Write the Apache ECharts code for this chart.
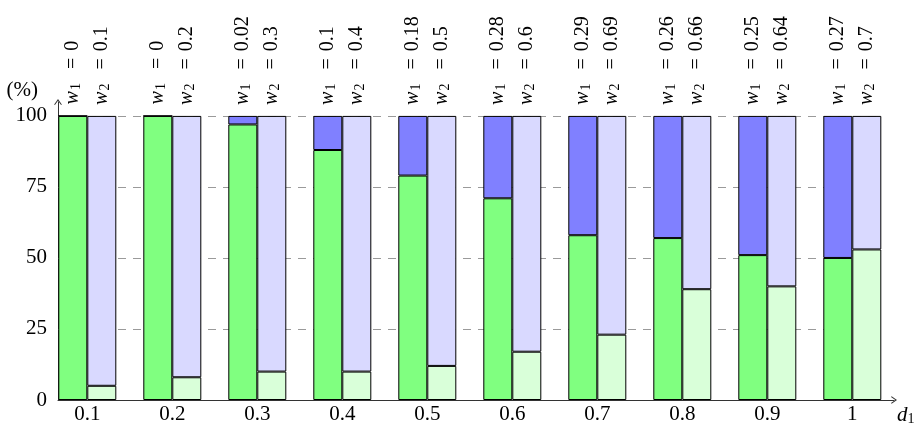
<!DOCTYPE html>
<html><head><meta charset="utf-8">
<script src="https://cdn.jsdelivr.net/npm/echarts@6/dist/echarts.min.js"></script>
<style>html,body{margin:0;padding:0;background:#fff}#c{width:920px;height:427px}</style>
</head><body><div id="c"></div>
<script>
// ---- data ----
const categories = [0.1, 0.2, 0.3, 0.4, 0.5, 0.6, 0.7, 0.8, 0.9, 1];
const tickLabels = ['0.1', '0.2', '0.3', '0.4', '0.5', '0.6', '0.7', '0.8', '0.9', '1'];
const w1Labels = ['0', '0', '0.02', '0.1', '0.18', '0.28', '0.29', '0.26', '0.25', '0.27'];
const w2Labels = ['0.1', '0.2', '0.3', '0.4', '0.5', '0.6', '0.69', '0.66', '0.64', '0.7'];
const green1 = [100, 100, 97, 88, 79, 71, 58, 57, 51, 50];
const blue1 = [0, 0, 3, 12, 21, 29, 42, 43, 49, 50];
const green2 = [5, 8, 10, 10, 12, 17, 23, 39, 40, 53];
const blue2 = [95, 92, 90, 90, 88, 83, 77, 61, 60, 47];
const yTickValues = [0, 25, 50, 75, 100];
const yTickLabels = ['0', '25', '50', '75', '100'];
const gridValues = [25, 50, 75, 100];

// ---- layout ----
const FONT = "'Liberation Serif', 'DejaVu Serif', serif";
const X_MIN = 0.0655, X_MAX = 1.049, GRID_END = 1.0338, Y_MAX = 104.9;
const ARROW = 'path://M0,7 L5,0 L10,7 L9,7.8 L5,2.2 L1,7.8 Z';

const labelRich = {
  i: {fontFamily: FONT, fontStyle: 'italic', fontSize: 20, lineHeight: 22, verticalAlign: 'middle', color: '#000'},
  s: {fontFamily: FONT, fontSize: 14, lineHeight: 14, verticalAlign: 'bottom', padding: [0, 0, 0, 1], color: '#000'},
  e: {fontFamily: FONT, fontSize: 20, lineHeight: 22, verticalAlign: 'middle', padding: [0, 7, 0, 14], color: '#000'},
  n: {fontFamily: FONT, fontSize: 20, lineHeight: 22, verticalAlign: 'middle', color: '#000'}
};
const topLabel = (sub, arr) => ({
  show: true, position: 'top', rotate: 90, align: 'left', verticalAlign: 'middle', distance: 11,
  formatter: p => `{i|w}{s|${sub}}{e|=}{n|${arr[p.dataIndex]}}`,
  rich: labelRich
});
const bar = (name, stack, data, color, label) => ({
  type: 'bar', name, stack, data, xAxisIndex: 0, yAxisIndex: 0,
  barWidth: 29, barGap: '0%', z: 2,
  itemStyle: {color, borderColor: '#000', borderWidth: 1},
  label: label || {show: false}
});

const chart = echarts.init(document.getElementById('c'), null, {renderer: 'canvas'});
chart.setOption({
  animation: false,
  backgroundColor: '#fff',
  grid: [
    // bar band grid: category bands of equal width centred on each d1 value
    {left: 44.8, right: 25.2, top: 102, bottom: 27, containLabel: false, outerBoundsMode: 'none'},
    // visible axes grid
    {left: 58, right: 26, top: 102, bottom: 27, containLabel: false, outerBoundsMode: 'none'}
  ],
  xAxis: [
    {type: 'category', gridIndex: 0, data: tickLabels, boundaryGap: true, show: false},
    {
      type: 'value', gridIndex: 1, min: X_MIN, max: X_MAX,
      splitLine: {show: false}, axisTick: {show: false},
      axisLine: {show: true, onZero: false, lineStyle: {color: '#333', width: 1},
        symbol: ['none', ARROW], symbolSize: [8, 6]},
      axisLabel: {
        customValues: categories, margin: 4, fontSize: 21, fontFamily: FONT, color: '#000',
        formatter: v => { const i = categories.findIndex(c => Math.abs(c - v) < 1e-6); return i >= 0 ? tickLabels[i] : ''; }
      },
      name: '{d|d}{s|1}', nameLocation: 'end', nameGap: 3,
      nameTextStyle: {align: 'left', verticalAlign: 'top', padding: [4, 0, 0, 0],
        rich: {
          d: {fontFamily: FONT, fontStyle: 'italic', fontSize: 21, lineHeight: 22, verticalAlign: 'middle', color: '#000'},
          s: {fontFamily: FONT, fontSize: 14, lineHeight: 14, verticalAlign: 'bottom', color: '#000'}
        }}
    }
  ],
  yAxis: [
    {type: 'value', gridIndex: 0, min: 0, max: Y_MAX, show: false},
    {
      type: 'value', gridIndex: 1, min: 0, max: Y_MAX,
      splitLine: {show: false}, axisTick: {show: false},
      axisLine: {show: true, lineStyle: {color: '#333', width: 1},
        symbol: ['none', ARROW], symbolSize: [8, 6]},
      axisLabel: {
        customValues: yTickValues, margin: 11, fontSize: 21, fontFamily: FONT, color: '#000',
        formatter: v => { const i = yTickValues.indexOf(Math.round(v)); return i >= 0 ? yTickLabels[i] : ''; }
      },
      name: '(%)', nameLocation: 'end', nameGap: 12,
      nameTextStyle: {align: 'right', verticalAlign: 'middle', padding: [0, 20, 0, 0],
        fontSize: 21, fontFamily: FONT, color: '#000'}
    }
  ],
  series: [
    {
      type: 'scatter', xAxisIndex: 1, yAxisIndex: 1, data: [[X_MIN, 0]], symbolSize: 0, silent: true, z: 1,
      markLine: {
        silent: true, z: 1, animation: false, symbol: ['none', 'none'],
        label: {show: false},
        lineStyle: {type: [8, 7], color: '#9a9a9a', width: 1},
        data: gridValues.map(v => [{coord: [X_MIN, v]}, {coord: [GRID_END, v]}])
      }
    },
    bar('g1', 'a', green1, '#80ff80'),
    bar('b1', 'a', blue1, '#8080ff', topLabel('1', w1Labels)),
    bar('g2', 'b', green2, '#d9ffd9'),
    bar('b2', 'b', blue2, '#d9d9ff', topLabel('2', w2Labels))
  ]
});
</script>
</body></html>
